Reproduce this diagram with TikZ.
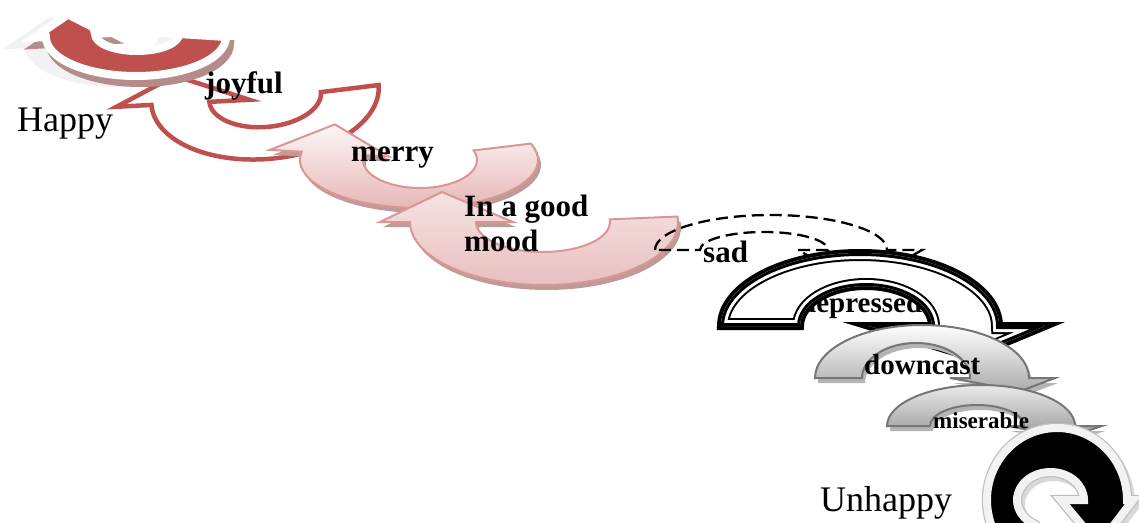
\documentclass[tikz,border=0pt]{standalone}
\usepackage{fontspec}
\setmainfont{Liberation Serif}
\usetikzlibrary{calc}

\definecolor{cred}{HTML}{C0504D}
\definecolor{credsh}{HTML}{B58C8C}
\definecolor{cextr}{HTML}{F2F2F2}
\definecolor{cpinkline}{HTML}{D99694}
\definecolor{cpinktop}{HTML}{FDF6F6}
\definecolor{cpinkbot}{HTML}{E4B3B2}
\definecolor{cpinktopb}{HTML}{F6E2E2}
\definecolor{cpinkbotb}{HTML}{E8BFBE}
\definecolor{cpinksh}{HTML}{BE9B9A}
\definecolor{cgrayline}{HTML}{767676}
\definecolor{cgraysh}{HTML}{B4B4B4}
\definecolor{cgraybot}{HTML}{ABABAB}
\definecolor{cgraytopb}{HTML}{EAEAEA}
\definecolor{cgraybotb}{HTML}{9A9A9A}

\pgfkeys{/ca/.cd,
 rxo/.store in=\caRXo, ryo/.store in=\caRYo,
 icx/.store in=\caICX, icy/.store in=\caICY,
 rxi/.store in=\caRXi, ryi/.store in=\caRYi,
 fa/.store in=\caFA, aa/.store in=\caAA,
 ovo/.store in=\caOVo, ovi/.store in=\caOVi,
 tx/.store in=\caTX, ty/.store in=\caTY}

\newcommand\caset[1]{%
 \pgfqkeys{/ca}{icx=0,icy=0,#1}%
 \pgfmathsetmacro\caOFx{\caRXo*cos(\caFA)}%
 \pgfmathsetmacro\caOFy{\caRYo*sin(\caFA)}%
 \pgfmathsetmacro\caOAx{\caRXo*cos(\caAA)}%
 \pgfmathsetmacro\caOAy{\caRYo*sin(\caAA)}%
 \pgfmathsetmacro\caIAx{\caICX+\caRXi*cos(\caAA)}%
 \pgfmathsetmacro\caIAy{\caICY+\caRYi*sin(\caAA)}%
 \pgfmathsetmacro\caDx{\caOAx-\caIAx}%
 \pgfmathsetmacro\caDy{\caOAy-\caIAy}%
 \pgfmathsetmacro\caDL{veclen(\caDx,\caDy)}%
 \pgfmathsetmacro\caBOx{\caOAx+\caOVo*\caDx/\caDL}%
 \pgfmathsetmacro\caBOy{\caOAy+\caOVo*\caDy/\caDL}%
 \pgfmathsetmacro\caBIx{\caIAx-\caOVi*\caDx/\caDL}%
 \pgfmathsetmacro\caBIy{\caIAy-\caOVi*\caDy/\caDL}%
 \pgfmathsetmacro\caTPx{(\caOAx+\caIAx)/2+\caTX}%
 \pgfmathsetmacro\caTPy{(\caOAy+\caIAy)/2+\caTY}%
}
\newcommand\cadraw[1]{%
 \path[#1] (\caOFx,\caOFy) arc[start angle=\caFA, end angle=\caAA, x radius=\caRXo, y radius=\caRYo]
 -- (\caBOx,\caBOy) -- (\caTPx,\caTPy) -- (\caBIx,\caBIy) -- (\caIAx,\caIAy)
 arc[start angle=\caAA, end angle=\caFA, x radius=\caRXi, y radius=\caRYi] -- cycle;}

\begin{document}
\begin{tikzpicture}[x=1pt,y=-1pt,
  lblb/.style={font=\fontsize{31}{35}\selectfont\bfseries, inner sep=0pt, anchor=base west},
  lblr/.style={font=\fontsize{36}{40}\selectfont, inner sep=0pt, anchor=base west}]
\useasboundingbox (0,0) rectangle (1139,522);

% joyful outline arrow
\begin{scope}[shift={(265,95)},rotate=5]
\caset{rxo=114,ryo=64,icy=2,rxi=56,ryi=30,fa=0,aa=180,ovo=35,ovi=40,tx=-3,ty=-28}
\cadraw{fill=white,draw=cred,line width=4.5}
\end{scope}

% top red arrow
\begin{scope}[shift={(136,37)}]
\caset{rxo=90,ryo=39,icx=1,icy=-3,rxi=42,ryi=17,fa=0,aa=180,ovo=12,ovi=10,tx=-2.5,ty=-21}
\begin{scope}[shift={(-18,7)}]\cadraw{fill=cextr,draw=cextr,line width=8}\end{scope}
\begin{scope}[shift={(4,7)}]\cadraw{fill=credsh,draw=credsh,line width=8}\end{scope}
\cadraw{fill=cred,draw=white,line width=8}
\end{scope}

% merry
\begin{scope}[shift={(419,160)}]
\caset{rxo=119,ryo=48,icx=1,rxi=57,ryi=28,fa=-20,aa=190,ovo=32,ovi=25,tx=2,ty=-29}
\begin{scope}[shift={(3,5)}]\cadraw{fill=cpinksh}\end{scope}
\cadraw{draw=cpinkline,line width=2,top color=cpinktop,bottom color=cpinkbot}
\end{scope}

% in a good mood
\begin{scope}[shift={(544,222)}]
\caset{rxo=134,ryo=63,icx=-1,rxi=67,ryi=30,fa=-5,aa=180,ovo=30,ovi=37,tx=-1,ty=-30}
\begin{scope}[shift={(3,5)}]\cadraw{fill=cpinksh}\end{scope}
\cadraw{draw=cpinkline,line width=2,top color=cpinktopb,bottom color=cpinkbotb}
\end{scope}

% sad (dashed)
\begin{scope}[shift={(771,250)}]
\caset{rxo=116,ryo=35,icx=-7,rxi=64,ryi=18,fa=180,aa=360,ovo=35,ovi=30,tx=3,ty=35}
\cadraw{draw=black,line width=2.3,dash pattern=on 12pt off 6pt}
\end{scope}

% label lying under the depressed arrow's outline
\node[lblb,font=\fontsize{29}{33}\selectfont\bfseries] (depr) at (800,312) {depressed};

% depressed (double outline)
\begin{scope}[shift={(860,326)}]
\caset{rxo=139,ryo=73,icx=6,rxi=66,ryi=40,fa=180,aa=360,ovo=46,ovi=63,tx=5,ty=31}
\cadraw{fill=white,draw=black,line width=8}
\begin{scope}
\cadraw{clip}
\cadraw{draw=black,line width=16}
\cadraw{draw=white,line width=12}
\cadraw{draw=black,line width=6}
\end{scope}
\end{scope}

% downcast
\begin{scope}[shift={(922,378)}]
\caset{rxo=107,ryo=53,icx=-6,rxi=54,ryi=35,fa=180,aa=360,ovo=26,ovi=20,tx=21.5,ty=13}
\begin{scope}[shift={(3,5)}]\cadraw{fill=cgraysh}\end{scope}
\cadraw{draw=cgrayline,line width=2,top color=white,bottom color=cgraybot}
\end{scope}

% miserable
\begin{scope}[shift={(981,426)}]
\caset{rxo=94,ryo=41,icx=-4,rxi=47,ryi=21,fa=180,aa=360,ovo=27,ovi=17,tx=19,ty=11}
\begin{scope}[shift={(3,5)}]\cadraw{fill=cgraysh}\end{scope}
\cadraw{draw=cgrayline,line width=2,top color=cgraytopb,bottom color=cgraybotb}
\end{scope}

% unhappy black arrow
\begin{scope}[shift={(1057,500)}]
\caset{rxo=70,ryo=72,icx=-6.5,rxi=33.5,ryi=28,fa=120,aa=360,ovo=6,ovi=23,tx=-7,ty=45}
\begin{scope}[shift={(3,4)}]\cadraw{fill=gray!30,draw=gray!30,line width=10}\end{scope}
\cadraw{draw=gray!50,line width=10.5}
\cadraw{fill=black,draw=white!95!black,line width=8}
\end{scope}

% labels
\node[lblr] (happy) at (17,131) {Happy};
\node[lblb] (joyful) at (205,93) {joyful};
\node[lblb] (merry) at (351,161) {merry};
\node[lblb] (good) at (464,216) {In a good};
\node[lblb] (mood) at (464,251) {mood};
\node[lblb] (sad) at (703,262) {sad};
\node[lblb,font=\fontsize{29}{33}\selectfont\bfseries] (down) at (864,374) {downcast};
\node[lblb,font=\fontsize{23}{27}\selectfont\bfseries] (mis) at (933,428) {miserable};
\node[lblr] (unh) at (820,511) {Unhappy};
\end{tikzpicture}
\end{document}
